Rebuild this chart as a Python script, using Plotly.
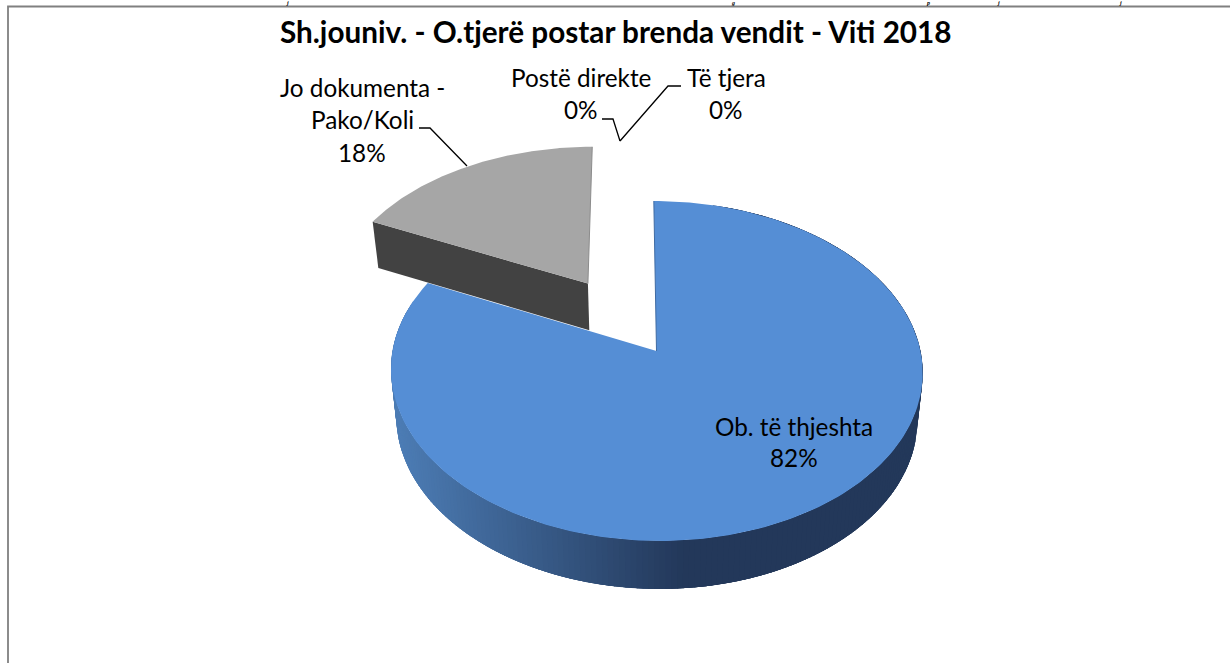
import numpy as np
import plotly.graph_objects as go

TITLE = "Sh.jouniv. - O.tjerë postar brenda vendit - Viti 2018"
categories = ["Ob. të thjeshta", "Jo dokumenta - Pako/Koli", "Postë direkte", "Të tjera"]
values = [82, 18, 0, 0]
top_letters = ["j", "g", "p", "j", "j"]

W, H_PX = 1230, 663
CX, CY, RX, RY, K, SKEW = 656.5, 351.0, 264.0, 167.6, 0.1176, -3.0
EXPLODE = 0.5
FONT = "Lato"


def project(u, v):
    w = 1 + K * v
    return CX + (RX * u + SKEW * v) / w, CY - RY * v / w


def lower(u, v):
    x, y = project(u, v)
    return CX + 0.98 * (x - CX), y + 47 - v


total = sum(values)
fracs = np.cumsum([0] + values) / total


def arc(f0, f1, n=240, off=(0.0, 0.0)):
    a = 2 * np.pi * np.linspace(f0, f1, n)
    return np.sin(a) + off[0], np.cos(a) + off[1]


fig = go.Figure()


def poly(xs, ys, color):
    fig.add_trace(go.Scatter(
        x=list(xs), y=list(ys), mode="lines", fill="toself", fillcolor=color,
        line=dict(color=color, width=0), hoverinfo="skip", showlegend=False))


def mix(t):
    c0, c1 = (76, 124, 180), (35, 56, 90)
    t = min(1.0, max(0.0, t))
    return "rgb(%d,%d,%d)" % tuple(round(a + (b - a) * t) for a, b in zip(c0, c1))


# blue slice wall: overlapping strips, each later strip covers the seam of the one before
edges = np.linspace(fracs[1] - 0.02, fracs[0] + 0.05, 241)
for f0, f1 in zip(edges[:-1], edges[1:]):
    u, v = arc(f0, f1 - 0.01, 6)
    xt, yt = project(u, v)
    xb, yb = lower(u, v)
    xc, _ = project(*arc(f0, f0, 1))
    t = (xc[0] - 397) / (680 - 397)
    poly(np.r_[xt, xb[::-1]], np.r_[yt, yb[::-1]], mix(t))

# blue slice top
u, v = arc(fracs[0], fracs[1])
xt, yt = project(np.r_[0, u], np.r_[0, v])
poly(xt, yt, "#558ed5")

# exploded grey slice
mid = 2 * np.pi * (fracs[1] + fracs[2]) / 2
off = (EXPLODE * np.sin(mid), EXPLODE * np.cos(mid))
u, v = arc(fracs[1], fracs[2], off=off)
su = np.r_[off[0], u]
sv = np.r_[off[1], v]
ax, ay = project(off[0], off[1])
lx, ly = project(u[0], v[0])
bax, bay = lower(off[0], off[1])
blx, bly = lower(u[0], v[0])
poly([lx, ax, bax, blx], [ly, ay, bay, bly], "#424242")
xt, yt = project(su, sv)
poly(xt, yt, "#a6a6a6")

# thin cut faces
rx, ry = project(u[-1], v[-1])
fig.add_trace(go.Scatter(x=[ax, rx], y=[ay, ry], mode="lines", line=dict(color="#8c8c8c", width=1),
                         hoverinfo="skip", showlegend=False))
tx, ty = project(0, 1)
ox, oy = project(0, 0)
fig.add_trace(go.Scatter(x=[tx, ox], y=[ty, oy], mode="lines", line=dict(color="#3f6ba3", width=1),
                         hoverinfo="skip", showlegend=False))

# leader lines
for lx_, ly_ in [([419, 430, 467], [128, 128, 166]),
                 ([602, 613, 620], [119, 119, 141]),
                 ([681, 668, 620], [86, 86, 141])]:
    fig.add_trace(go.Scatter(x=lx_, y=ly_, mode="lines", line=dict(color="#000000", width=1.3),
                             hoverinfo="skip", showlegend=False))

# frame
fig.add_trace(go.Scatter(x=[8, 8, 1230], y=[663, 6.5, 6.5], mode="lines",
                         line=dict(color="#808080", width=1.8), hoverinfo="skip", showlegend=False))


def text(x, y, s, size=24.3, bold=False):
    fig.add_annotation(x=x, y=y, text=("<b>%s</b>" % s) if bold else s, showarrow=False,
                       font=dict(family=FONT, size=size, color="#000000"), align="center",
                       xanchor="center", yanchor="middle")


text(616, 31, TITLE, size=29.7, bold=True)
text(362, 87, "Jo dokumenta -")
text(362, 119, "Pako/Koli")
text(362, 152, "%d%%" % values[1])
text(581, 77, categories[2])
text(581, 109, "%d%%" % values[2])
text(726, 77, categories[3])
text(726, 109, "%d%%" % values[3])
text(794, 426, categories[0])
text(794, 457, "%d%%" % values[0])

# small letters standing for the line of body text that the reference crops at its top edge
for x, s in zip([287, 733, 928, 998, 1120], top_letters):
    fig.add_annotation(x=x, xref="x", y=1, yref="paper", yanchor="top", yshift=1,
                       text="<b><i>%s</i></b>" % s, showarrow=False,
                       font=dict(family="Liberation Serif", size=6, color="#000000"),
                       xanchor="center", borderpad=0)

fig.update_layout(
    width=W, height=H_PX, margin=dict(l=0, r=0, t=0, b=0),
    paper_bgcolor="white", plot_bgcolor="white", showlegend=False,
    xaxis=dict(range=[0, W], visible=False, fixedrange=True),
    yaxis=dict(range=[H_PX, 0], visible=False, fixedrange=True),
)
fig.write_html("out.html", config=dict(displayModeBar=False),
               post_script="document.body.style.margin='0';document.body.style.overflow='hidden';")
